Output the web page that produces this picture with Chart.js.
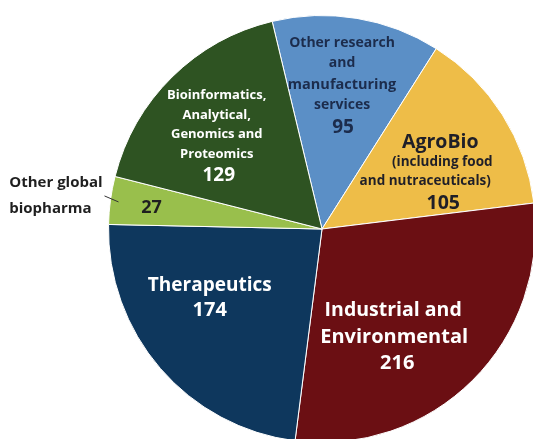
<!DOCTYPE html>
<html>
<head>
<meta charset="utf-8">
<script src="https://cdn.jsdelivr.net/npm/chart.js@4"></script>
<style>
  html, body { margin: 0; padding: 0; background: #fff; overflow: hidden; width: 533px; height: 439px; }
  /* the pie runs past the right and bottom edges, so the canvas is a bit larger than the page */
  #wrap { position: relative; width: 545px; height: 450px; }
</style>
</head>
<body>
<div id="wrap"><canvas id="pie"></canvas></div>
<script>
// Sector counts, clockwise from the top
const categories = [
  "Other research and manufacturing services",
  "AgroBio (including food and nutraceuticals)",
  "Industrial and Environmental",
  "Therapeutics",
  "Other global biopharma",
  "Bioinformatics, Analytical, Genomics and Proteomics"
];
const counts = [95, 105, 216, 174, 27, 129];
const sliceColors = ["#5b8fc6", "#eebd48", "#6b0f13", "#0e375d", "#99bf4c", "#2e5322"];

// Text drawn inside/next to each slice (value line is taken from counts)
const sliceText = [
  ["Other research", "and", "manufacturing", "services"],
  ["AgroBio", "(including food", "and nutraceuticals)"],
  ["Industrial and", "Environmental"],
  ["Therapeutics"],
  [],
  ["Bioinformatics,", "Analytical,", "Genomics and", "Proteomics"]
];

// label layout: offsets in px from the pie centre (for radius 213), font size
const labelLayout = [
  { color: "#1c2c4c", lines: [[20, -186, 14], [20, -166, 14], [20, -144, 14.5], [20, -124, 14]], value: [21, -101, 19] },
  { color: "#1f1f28", lines: [[118, -86, 19.5], [120, -67, 13.5], [103, -48, 13.5]], value: [121, -26, 19.5] },
  { color: "#ffffff", lines: [[71, 81, 19.5], [72, 108, 20]], value: [75, 134, 20] },
  { color: "#ffffff", lines: [[-112, 56, 19]], value: [-112, 81, 20] },
  { color: "#1f1f1f", lines: [], value: [-170, -21, 18] },
  { color: "#ffffff", lines: [[-105, -133, 13], [-105, -113, 13], [-105, -94, 13], [-105, -75, 13]], value: [-103, -53, 19] }
];

const FONT = '"Open Sans", "Noto Sans", sans-serif';

const labelPlugin = {
  id: "sliceLabels",
  afterDatasetsDraw(chart) {
    const ctx = chart.ctx;
    const arc = chart.getDatasetMeta(0).data[0];
    const cx = arc.x, cy = arc.y, k = arc.outerRadius / 213;
    ctx.save();
    ctx.textAlign = "center";
    ctx.textBaseline = "middle";
    labelLayout.forEach((lay, i) => {
      ctx.fillStyle = lay.color;
      lay.lines.forEach((ln, j) => {
        ctx.font = `bold ${ln[2]}px ${FONT}`;
        ctx.fillText(sliceText[i][j], cx + ln[0] * k, cy + ln[1] * k);
      });
      const v = lay.value;
      ctx.font = `bold ${v[2]}px ${FONT}`;
      ctx.fillText(String(counts[i]), cx + v[0] * k, cy + v[1] * k);
    });

    // outside label for the small slice, with a short leader line
    ctx.fillStyle = "#1f1f1f";
    ctx.textAlign = "left";
    ctx.font = `bold 15px ${FONT}`;
    ctx.fillText("Other global", cx - 312 * k, cy - 46 * k);
    ctx.fillText("biopharma", cx - 312 * k, cy - 20 * k);
    ctx.strokeStyle = "#333";
    ctx.lineWidth = 1;
    ctx.beginPath();
    ctx.moveTo(cx - 217 * k, cy - 33 * k);
    ctx.lineTo(cx - 203 * k, cy - 27 * k);
    ctx.stroke();
    ctx.restore();
  }
};

new Chart(document.getElementById("pie"), {
  type: "pie",
  data: {
    labels: categories,
    datasets: [{
      data: counts,
      backgroundColor: sliceColors,
      borderColor: "#ffffff",
      borderWidth: 1
    }]
  },
  options: {
    responsive: true,
    maintainAspectRatio: false,
    animation: false,
    rotation: -13.5,
    layout: { padding: { left: 108, right: 9, top: 15, bottom: 7 } },
    plugins: {
      legend: { display: false },
      tooltip: { enabled: false }
    }
  },
  plugins: [labelPlugin]
});
</script>
</body>
</html>
